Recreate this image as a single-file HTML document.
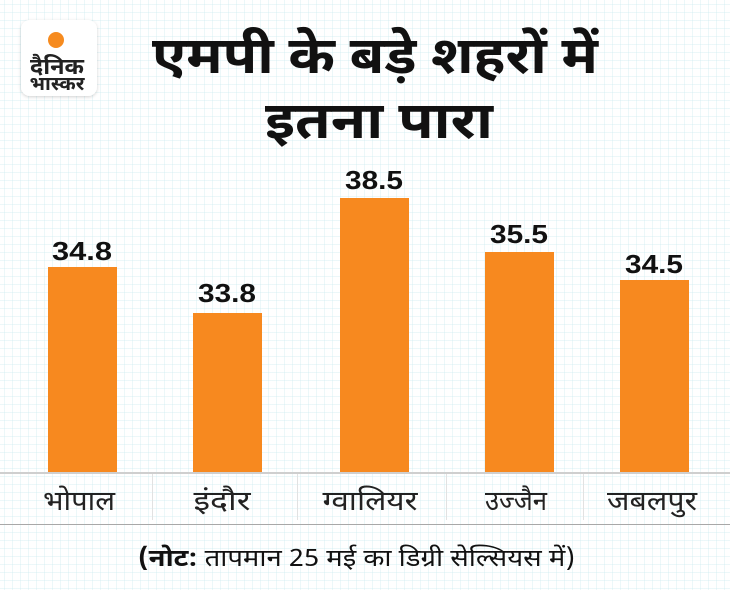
<!DOCTYPE html>
<html>
<head>
<meta charset="utf-8">
<style>
html,body{margin:0;padding:0;}
body{width:730px;height:590px;overflow:hidden;background:#ffffff;
background-image:linear-gradient(to right, rgba(205,235,240,0.38) 1px, transparent 1px),linear-gradient(to bottom, rgba(205,235,240,0.38) 1px, transparent 1px);
background-size:8px 8px;background-position:4px 4px;}
svg{position:absolute;left:0;top:0;}
.dev{font-family:"Noto Sans Devanagari","Lohit Devanagari","Mukta","FreeSans","Liberation Sans","Noto Sans CJK JP",sans-serif;}
.num{font-family:"Liberation Sans",sans-serif;font-weight:bold;}
</style>
</head>
<body>
<svg width="730" height="590" viewBox="0 0 730 590" xmlns="http://www.w3.org/2000/svg">
  <defs>
    <filter id="sh" x="-20%" y="-20%" width="140%" height="140%">
      <feDropShadow dx="0" dy="1" stdDeviation="1.5" flood-color="#000" flood-opacity="0.18"/>
    </filter>
  </defs>
  <!-- logo -->
  <rect x="21" y="20" width="76" height="76" rx="9" ry="9" fill="#ffffff" filter="url(#sh)"/>
  <circle cx="56" cy="40" r="8" fill="#f68b1f"/>
  <text class="dev" x="57" y="74" font-size="22" font-weight="bold" fill="#222" text-anchor="middle" textLength="54" lengthAdjust="spacingAndGlyphs">दैनिक</text>
  <text class="dev" x="57" y="90" font-size="19" font-weight="bold" fill="#222" text-anchor="middle" textLength="55" lengthAdjust="spacingAndGlyphs">भास्कर</text>

  <!-- title -->
  <text class="dev" x="375" y="73" font-size="51" font-weight="bold" fill="#111" text-anchor="middle" textLength="446" lengthAdjust="spacingAndGlyphs">एमपी के बड़े शहरों में</text>
  <text class="dev" x="379" y="138" font-size="51" font-weight="bold" fill="#111" text-anchor="middle" textLength="228" lengthAdjust="spacingAndGlyphs">इतना पारा</text>

  <!-- bars -->
  <g fill="#f7891f">
    <rect x="48" y="267" width="69" height="206"/>
    <rect x="193" y="313" width="69" height="160"/>
    <rect x="340" y="198" width="69" height="275"/>
    <rect x="485" y="252" width="69" height="221"/>
    <rect x="620" y="280" width="69" height="193"/>
  </g>

  <!-- value labels -->
  <g class="num" font-size="26" fill="#111" text-anchor="middle">
    <text x="82" y="260" textLength="60" lengthAdjust="spacingAndGlyphs">34.8</text>
    <text x="227" y="302" textLength="58" lengthAdjust="spacingAndGlyphs">33.8</text>
    <text x="374" y="189" textLength="58" lengthAdjust="spacingAndGlyphs">38.5</text>
    <text x="519" y="243" textLength="58" lengthAdjust="spacingAndGlyphs">35.5</text>
    <text x="654" y="273" textLength="58" lengthAdjust="spacingAndGlyphs">34.5</text>
  </g>

  <!-- axis -->
  <rect x="0" y="472" width="730" height="2" fill="#cfcfcf"/>
  <g stroke="#e2e2e2" stroke-width="1">
    <line x1="152.5" y1="474" x2="152.5" y2="520"/>
    <line x1="297.5" y1="474" x2="297.5" y2="520"/>
    <line x1="446.5" y1="474" x2="446.5" y2="520"/>
    <line x1="583.5" y1="474" x2="583.5" y2="520"/>
  </g>
  <rect x="0" y="524" width="730" height="1" fill="#a8a8a8"/>

  <!-- category labels -->
  <g class="dev" font-size="27" fill="#222" text-anchor="middle">
    <text x="79" y="510" textLength="72" lengthAdjust="spacingAndGlyphs">भोपाल</text>
    <text x="222" y="510" textLength="57" lengthAdjust="spacingAndGlyphs">इंदौर</text>
    <text x="370" y="510" textLength="95" lengthAdjust="spacingAndGlyphs">ग्वालियर</text>
    <text x="516" y="510" textLength="62" lengthAdjust="spacingAndGlyphs">उज्जैन</text>
    <text x="652" y="510" textLength="90" lengthAdjust="spacingAndGlyphs">जबलपुर</text>
  </g>

  <!-- note -->
  <text class="dev" x="138" y="566" font-size="24" fill="#111" textLength="437" lengthAdjust="spacingAndGlyphs"><tspan font-weight="bold">(नोट:</tspan> तापमान 25 मई का डिग्री सेल्सियस में)</text>
</svg>
</body>
</html>
